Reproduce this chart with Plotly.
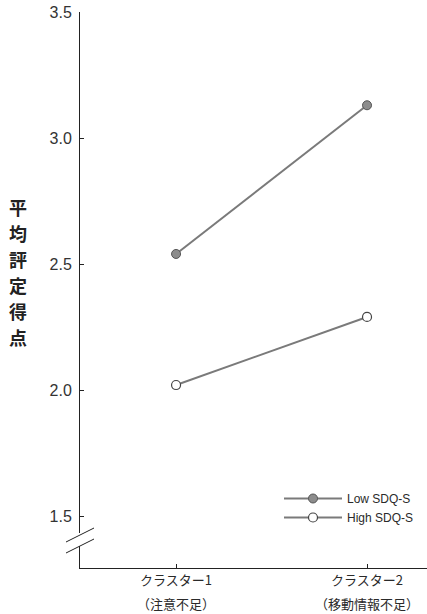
import plotly.graph_objects as go

# Cluster categories and mean ratings per SDQ-S group
clusters = ["クラスター1", "クラスター2"]
cluster_notes = ["（注意不足）", "（移動情報不足）"]
x_pos = [1, 2]
low_sdq = [2.54, 3.13]
high_sdq = [2.02, 2.29]
y_ticks = [1.5, 2.0, 2.5, 3.0, 3.5]
y_title = "平均評定得点"

W, H = 427, 614
L, R, T, B = 80, 0, 12, 46
x_range = [0.497, 2.314]
y_range = [1.294, 3.5]

line_col = "#7a7a7a"
ink = "#2a2a2a"

fig = go.Figure()
fig.add_trace(go.Scatter(
    x=x_pos, y=low_sdq, mode="lines+markers", name="Low SDQ-S",
    line=dict(color=line_col, width=2),
    marker=dict(size=9, color="#8c8c8c", line=dict(color="#555555", width=1)),
))
fig.add_trace(go.Scatter(
    x=x_pos, y=high_sdq, mode="lines+markers", name="High SDQ-S",
    line=dict(color=line_col, width=2),
    marker=dict(size=9, color="white", line=dict(color="#444444", width=1.2)),
))

# pixel -> paper helpers for the axis-break decoration and title layout
pw, ph = W - L - R, H - T - B
def px(x):
    return (x - L) / pw
def py(y):
    return (H - B - y) / ph

shapes = [
    # gap in the y axis
    dict(type="rect", xref="paper", yref="paper", x0=px(77), x1=px(83),
         y0=py(546), y1=py(533), fillcolor="white", line=dict(width=0), layer="above"),
    dict(type="line", xref="paper", yref="paper", x0=px(66), y0=py(542),
         x1=px(94), y1=py(528), line=dict(color="#222", width=1), layer="above"),
    dict(type="line", xref="paper", yref="paper", x0=px(66), y0=py(553),
         x1=px(94), y1=py(539), line=dict(color="#222", width=1), layer="above"),
]

# vertical axis title: one upright character per row
annotations = []
pitch = 26
first_center = 272 - pitch * (len(y_title) - 1) / 2
for i, ch in enumerate(y_title):
    annotations.append(dict(
        text="<b>" + ch + "</b>", xref="paper", yref="paper",
        x=px(18), y=py(first_center + i * pitch), xanchor="center", yanchor="middle",
        showarrow=False, font=dict(family="Noto Sans CJK JP", size=18, color="#222")))

for xv, note in zip(x_pos, cluster_notes):
    annotations.append(dict(
        text=note, x=xv, xref="x", yref="paper", y=py(603), yanchor="middle",
        showarrow=False, font=dict(family="Noto Sans CJK JP", size=13, color=ink)))

fig.update_layout(
    width=W, height=H, margin=dict(l=L, r=R, t=T, b=B),
    paper_bgcolor="white", plot_bgcolor="white",
    showlegend=True,
    legend=dict(x=px(279), y=py(484), xanchor="left", yanchor="top",
                bgcolor="rgba(0,0,0,0)", itemwidth=58, tracegroupgap=0,
                font=dict(family="Liberation Sans, Arial", size=12, color=ink)),
    xaxis=dict(range=x_range, tickvals=x_pos, ticktext=clusters,
               showgrid=False, zeroline=False, showline=True,
               linecolor="#222", linewidth=1, ticks="inside", ticklen=4,
               tickcolor="#222",
               tickfont=dict(family="Noto Sans CJK JP", size=13, color=ink)),
    yaxis=dict(range=y_range, tickvals=y_ticks,
               ticktext=[f"{v:.1f}" for v in y_ticks],
               showgrid=False, zeroline=False, showline=True,
               linecolor="#222", linewidth=1, ticks="inside", ticklen=4,
               tickcolor="#222", ticklabelstandoff=4,
               tickfont=dict(family="Liberation Sans, Arial", size=16, color="#333")),
    shapes=shapes, annotations=annotations,
)

fig.write_html("out.html")
